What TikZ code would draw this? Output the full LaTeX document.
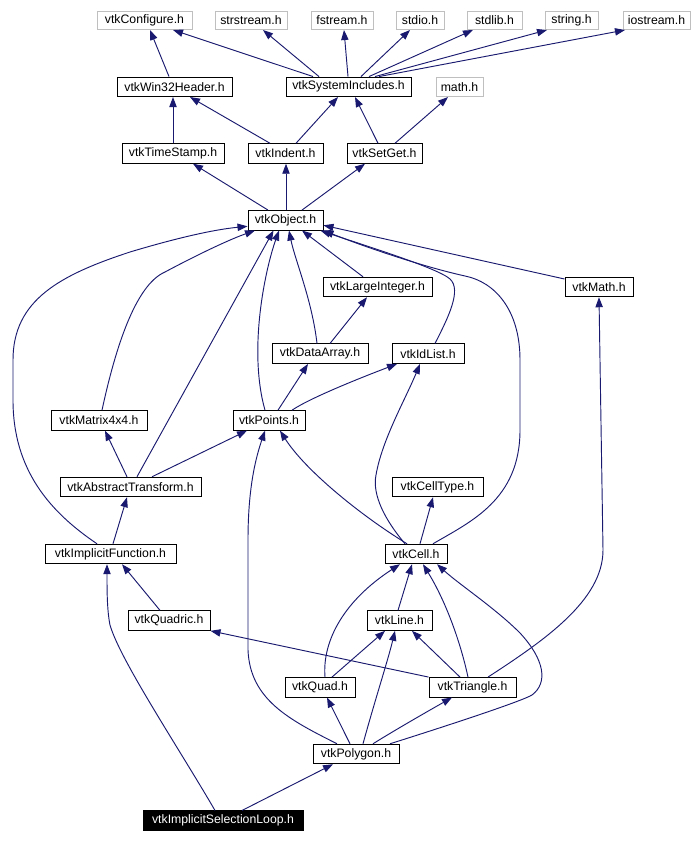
\documentclass[tikz,border=0pt]{standalone}
\usepackage{fontspec}
\setmainfont{Liberation Sans}
\usetikzlibrary{arrows.meta}
\definecolor{edgec}{HTML}{191970}
\definecolor{extc}{HTML}{BFBFBF}
\begin{document}
\begin{tikzpicture}[x=0.75pt,y=-0.75pt,
  box/.style={draw=black, line width=0.75pt, inner sep=0pt, minimum height=14.6pt,
    font=\fontsize{9.2pt}{11pt}\selectfont, text=black, fill=white},
  hdr/.style={box},
  ext/.style={box, draw=extc, minimum height=13.5pt},
  cur/.style={box, fill=black, text=white},
  dep/.style={draw=edgec, line width=0.7pt, -{Triangle[length=7.5pt,width=5.5pt]}}
]
\useasboundingbox (0,0) rectangle (694,842);
\fill[white] (0,0) rectangle (694,842);
% row 0
\node[ext, minimum width=95*0.75pt] (cfg) at (144.5,20.5) {vtkConfigure.h};
\node[ext, minimum width=72*0.75pt] (strs) at (251,20.5) {strstream.h};
\node[ext, minimum width=62*0.75pt] (fstr) at (342,20.5) {fstream.h};
\node[ext, minimum width=48*0.75pt] (stdio) at (420,20.5) {stdio.h};
\node[ext, minimum width=55*0.75pt] (stdlib) at (494.5,20.5) {stdlib.h};
\node[ext, minimum width=53*0.75pt] (string) at (571.5,20.5) {string.h};
\node[ext, minimum width=67*0.75pt] (iostr) at (656.5,20.5) {iostream.h};
% row 1
\node[hdr, minimum width=115*0.75pt] (win32) at (174.5,86.8) {vtkWin32Header.h};
\node[hdr, minimum width=125*0.75pt] (sysinc) at (348.5,86.8) {vtkSystemIncludes.h};
\node[ext, minimum width=47*0.75pt, minimum height=14.6pt] (math) at (459.5,86.8) {math.h};
% row 2
\node[hdr, minimum width=102*0.75pt] (tstamp) at (173,153.5) {vtkTimeStamp.h};
\node[hdr, minimum width=75*0.75pt] (indent) at (285.5,153.5) {vtkIndent.h};
\node[hdr, minimum width=75*0.75pt] (setget) at (384.5,153.5) {vtkSetGet.h};
% row 3
\node[hdr, minimum width=75*0.75pt] (object) at (285.5,220.3) {vtkObject.h};
% row 4
\node[hdr, minimum width=109*0.75pt] (largeint) at (377.5,287) {vtkLargeInteger.h};
\node[hdr, minimum width=68*0.75pt] (vmath) at (599,287) {vtkMath.h};
% row 5
\node[hdr, minimum width=96*0.75pt] (dataarr) at (320,353.7) {vtkDataArray.h};
\node[hdr, minimum width=72*0.75pt] (idlist) at (428,353.7) {vtkIdList.h};
% row 6
\node[hdr, minimum width=96*0.75pt] (matrix) at (99,420.4) {vtkMatrix4x4.h};
\node[hdr, minimum width=72*0.75pt] (points) at (269,420.4) {vtkPoints.h};
% row 7
\node[hdr, minimum width=141*0.75pt] (abstr) at (130.5,487) {vtkAbstractTransform.h};
\node[hdr, minimum width=91*0.75pt] (celltype) at (437.5,487) {vtkCellType.h};
% row 8
\node[hdr, minimum width=131*0.75pt] (implfn) at (110.5,554) {vtkImplicitFunction.h};
\node[hdr, minimum width=62*0.75pt] (cell) at (416,554) {vtkCell.h};
% row 9
\node[hdr, minimum width=82*0.75pt] (quadric) at (169,620.6) {vtkQuadric.h};
\node[hdr, minimum width=65*0.75pt] (line) at (399.5,620.6) {vtkLine.h};
% row 10
\node[hdr, minimum width=70*0.75pt] (quad) at (320,687.3) {vtkQuad.h};
\node[hdr, minimum width=87*0.75pt] (triangle) at (472.5,687.3) {vtkTriangle.h};
% row 11
\node[hdr, minimum width=86*0.75pt] (polygon) at (356,754) {vtkPolygon.h};
% row 12
\node[cur, minimum width=160*0.75pt] (isl) at (223,820.7) {vtkImplicitSelectionLoop.h};

% ---- edges (child -> included header)
\draw[dep] ([shift={(-5.5,0)}]win32.north) -- ([shift={(5.5,0)}]cfg.south);
\draw[dep] ([shift={(-35.5,0)}]sysinc.north) -- ([shift={(28.5,0)}]cfg.south);
\draw[dep] ([shift={(-29.5,0)}]sysinc.north) -- ([shift={(12,0)}]strs.south);
\draw[dep] ([shift={(-0.5,0)}]sysinc.north) -- ([shift={(2,0)}]fstr.south);
\draw[dep] ([shift={(12.5,0)}]sysinc.north) -- ([shift={(-10,0)}]stdio.south);
\draw[dep] ([shift={(20.5,0)}]sysinc.north) -- ([shift={(-21.5,0)}]stdlib.south);
\draw[dep] ([shift={(26.5,0)}]sysinc.north) -- ([shift={(-24.5,0)}]string.south);
\draw[dep] ([shift={(30.5,0)}]sysinc.north) -- ([shift={(-31.5,0)}]iostr.south);

\draw[dep] ([shift={(0,0)}]tstamp.north) -- ([shift={(-1.5,0)}]win32.south);
\draw[dep] ([shift={(-15.5,0)}]indent.north) -- ([shift={(15.5,0)}]win32.south);
\draw[dep] ([shift={(10.5,0)}]indent.north) -- ([shift={(-10.5,0)}]sysinc.south);
\draw[dep] ([shift={(-6.5,0)}]setget.north) -- ([shift={(6.5,0)}]sysinc.south);
\draw[dep] ([shift={(10.5,0)}]setget.north) -- ([shift={(-11.5,0)}]math.south);

\draw[dep] ([shift={(-17.5,0)}]object.north) -- ([shift={(20,0)}]tstamp.south);
\draw[dep] ([shift={(0.5,0)}]object.north) -- ([shift={(0.5,0)}]indent.south);
\draw[dep] ([shift={(16.5,0)}]object.north) -- ([shift={(-19.5,0)}]setget.south);

\draw[dep] ([shift={(-14.5,0)}]largeint.north) -- ([shift={(16.5,0)}]object.south);
\draw[dep] ([shift={(0,-8)}]vmath.west) -- ([shift={(0,5)}]object.east);
\draw[dep] ([shift={(-3,0)}]dataarr.north) .. controls (312,300) and (295,260) .. ([shift={(3.5,0)}]object.south);
\draw[dep] ([shift={(10,0)}]dataarr.north) -- ([shift={(-10.5,0)}]largeint.south);
\draw[dep] ([shift={(7,0)}]idlist.north) .. controls (448,318) and (462,290) .. (450,279)
  .. controls (438,268) and (360,244) .. ([shift={(-3,0)}]object.south east);
\draw[dep] ([shift={(-4,0)}]points.north) .. controls (248,350) and (265,270) .. ([shift={(-6.5,0)}]object.south);
\draw[dep] ([shift={(9,0)}]points.north) -- ([shift={(-12,0)}]dataarr.south);
\draw[dep] ([shift={(23,0)}]points.north) .. controls (310,398) and (360,378) .. ([shift={(-31,0)}]idlist.south);

\draw[dep] ([shift={(3,0)}]matrix.north) .. controls (115,350) and (135,285) .. (165,272)
  .. controls (195,256) and (228,240) .. ([shift={(-30.5,0)}]object.south);
\draw[dep] ([shift={(6.5,0)}]abstr.north) -- ([shift={(-12,0)}]object.south);
\draw[dep] ([shift={(-3.5,0)}]abstr.north) -- ([shift={(6,0)}]matrix.south);
\draw[dep] ([shift={(21.5,0)}]abstr.north) -- ([shift={(-22,0)}]points.south);

\draw[dep] ([shift={(-13.5,0)}]implfn.north) .. controls (50,512) and (13,470) .. (13,400)
  -- (13,360) .. controls (13,300) and (60,275) .. (130,252)
  .. controls (170,240) and (210,230) .. ([shift={(0,6)}]object.west);
\draw[dep] ([shift={(2.5,0)}]implfn.north) -- ([shift={(-3.5,0)}]abstr.south);

\draw[dep] ([shift={(17,0)}]cell.north) .. controls (470,522) and (520,500) .. (520,430)
  -- (520,360) .. controls (520,310) and (495,282) .. (465,276)
  .. controls (420,266) and (360,245) .. (object.south east);
\draw[dep] ([shift={(-9,0)}]cell.north) .. controls (360,515) and (305,470) .. ([shift={(11,0)}]points.south);
\draw[dep] ([shift={(-11,0)}]cell.north) .. controls (385,520) and (372,495) .. (376,475)
  .. controls (382,440) and (405,400) .. ([shift={(-8,0)}]idlist.south);
\draw[dep] ([shift={(4,0)}]cell.north) -- ([shift={(-4.5,0)}]celltype.south);

\draw[dep] ([shift={(-9,0)}]quadric.north) -- ([shift={(11.5,0)}]implfn.south);

\draw[dep] ([shift={(-1.5,0)}]line.north) -- ([shift={(-4,0)}]cell.south);
\draw[dep] ([shift={(5,0)}]quad.north) .. controls (322,640) and (345,600) .. ([shift={(-16,0)}]cell.south);
\draw[dep] ([shift={(12,0)}]quad.north) -- ([shift={(-14.5,0)}]line.south);
\draw[dep] ([shift={(-4.5,0)}]triangle.north) .. controls (460,640) and (445,600) .. ([shift={(7,0)}]cell.south);
\draw[dep] ([shift={(-12.5,0)}]triangle.north) -- ([shift={(12.5,0)}]line.south);
\draw[dep] (triangle.north west) -- (quadric.south east);
\draw[dep] ([shift={(15.5,0)}]triangle.north) .. controls (545,640) and (603,600) .. (603,550)
  -- (vmath.south);

\draw[dep] ([shift={(34,0)}]polygon.north) .. controls (440,728) and (520,702) .. (532,695)
  .. controls (548,683) and (545,660) .. (520,633)
  .. controls (495,608) and (460,585) .. ([shift={(21,0)}]cell.south);
\draw[dep] ([shift={(7,0)}]polygon.north) .. controls (375,700) and (388,660) .. ([shift={(-4.5,0)}]line.south);
\draw[dep] ([shift={(-6,0)}]polygon.north) -- ([shift={(7,0)}]quad.south);
\draw[dep] ([shift={(17,0)}]polygon.north) .. controls (395,730) and (430,710) .. ([shift={(-20.5,0)}]triangle.south);
\draw[dep] ([shift={(-19,0)}]polygon.north) .. controls (290,720) and (250,700) .. (248,650)
  -- (248,540) .. controls (248,490) and (255,460) .. ([shift={(-4,0)}]points.south);

\draw[dep] ([shift={(19,0)}]isl.north) -- ([shift={(-23,0)}]polygon.south);
\draw[dep] ([shift={(-8,0)}]isl.north) .. controls (180,750) and (120,660) .. (110,625)
  .. controls (107,610) and (107,590) .. ([shift={(-3.5,0)}]implfn.south);
\end{tikzpicture}
\end{document}
